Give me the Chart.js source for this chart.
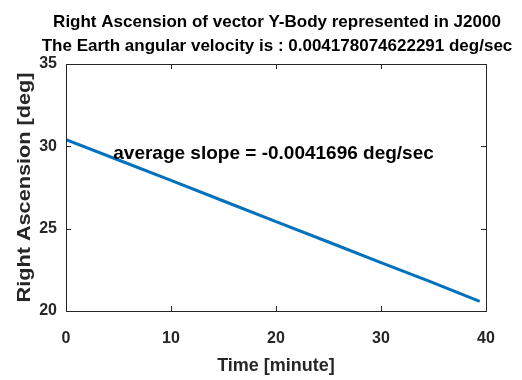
<!DOCTYPE html>
<html>
<head>
<meta charset="utf-8">
<script src="https://cdn.jsdelivr.net/npm/chart.js@4/dist/chart.umd.min.js"></script>
<style>
  html, body { margin: 0; padding: 0; background: #fff; }
  #wrap { width: 522px; height: 380px; }
</style>
</head>
<body>
<div id="wrap"><canvas id="myChart" width="522" height="380"></canvas></div>
<script>
// values
const timeMinutes = [0, 5, 10, 15, 20, 25, 30, 34.7, 39.4];
const rightAscension = [30.4, 29.17, 27.93, 26.68, 25.43, 24.19, 22.94, 21.78, 20.58];
const xTicks = [0, 10, 20, 30, 40];
const yTicks = [20, 25, 30, 35];
const titleLines = [
    "Right Ascension of vector Y-Body represented in J2000",
    "The Earth angular velocity is : 0.004178074622291 deg/sec"
];
const slopeText = "average slope = -0.0041696 deg/sec";
const yTitle = "Right Ascension [deg]";

const FONT = "'Liberation Sans', Arial, sans-serif";
const AXIS_COLOR = "#262626";

// box around plot, inward ticks, titles and the slope label
const boxPlugin = {
    id: "boxPlugin",
    afterDatasetsDraw(chart) {
        const { ctx, chartArea: a, scales } = chart;
        ctx.save();
        ctx.strokeStyle = AXIS_COLOR;
        ctx.lineWidth = 1;
        ctx.strokeRect(a.left + 0.5, a.top + 0.5, a.right - a.left, a.bottom - a.top);
        ctx.beginPath();
        xTicks.forEach(v => {
            const x = Math.round(scales.x.getPixelForValue(v)) + 0.5;
            ctx.moveTo(x, a.bottom); ctx.lineTo(x, a.bottom - 5);
            ctx.moveTo(x, a.top); ctx.lineTo(x, a.top + 5);
        });
        yTicks.forEach(v => {
            const y = Math.round(scales.y.getPixelForValue(v)) + 0.5;
            ctx.moveTo(a.left, y); ctx.lineTo(a.left + 5, y);
            ctx.moveTo(a.right, y); ctx.lineTo(a.right - 5, y);
        });
        ctx.stroke();

        // two-line title centred over the plot box
        ctx.fillStyle = "#000";
        ctx.font = "bold 17px " + FONT;
        ctx.textAlign = "center";
        ctx.textBaseline = "alphabetic";
        const cx = (a.left + a.right) / 2 + 1;
        ctx.fillText(titleLines[0], cx, 27);
        ctx.fillText(titleLines[1], cx, 51);

        ctx.font = "bold 19px " + FONT;
        ctx.textAlign = "left";
        ctx.textBaseline = "middle";
        ctx.fillText(slopeText, scales.x.getPixelForValue(4.5), scales.y.getPixelForValue(29.56));

        // y axis title, stretched a little along its length like the reference
        ctx.fillStyle = AXIS_COLOR;
        ctx.font = "bold 19px " + FONT;
        ctx.textAlign = "center";
        ctx.textBaseline = "alphabetic";
        ctx.translate(30, (a.top + a.bottom) / 2);
        ctx.rotate(-Math.PI / 2);
        ctx.scale(1.14, 1);
        ctx.fillText(yTitle, 0, 0);
        ctx.restore();
    }
};

const ctx = document.getElementById("myChart").getContext("2d");
new Chart(ctx, {
    type: "line",
    data: {
        datasets: [{
            data: timeMinutes.map((t, i) => ({ x: t, y: rightAscension[i] })),
            borderColor: "#0072BD",
            borderWidth: 3,
            pointRadius: 0,
            tension: 0,
            fill: false
        }]
    },
    options: {
        responsive: false,
        animation: false,
        layout: { padding: { left: 0, right: 36, top: 64, bottom: 0 } },
        plugins: {
            legend: { display: false },
            tooltip: { enabled: false },
            title: { display: false }
        },
        scales: {
            x: {
                type: "linear",
                min: 0, max: 40,
                afterBuildTicks: s => { s.ticks = xTicks.map(v => ({ value: v })); },
                afterFit: s => { s.height = 69; },
                grid: { display: false, drawTicks: false },
                border: { display: false },
                ticks: { color: AXIS_COLOR, font: { family: FONT, size: 16, weight: "bold" }, padding: 18, maxRotation: 0 },
                title: { display: true, text: "Time [minute]", color: AXIS_COLOR, font: { family: FONT, size: 18, weight: "bold" }, padding: { top: 0, bottom: 3 } }
            },
            y: {
                min: 20, max: 35,
                afterBuildTicks: s => { s.ticks = yTicks.map(v => ({ value: v })); },
                afterFit: s => { s.width = 66; },
                grid: { display: false, drawTicks: false },
                border: { display: false },
                ticks: { color: AXIS_COLOR, font: { family: FONT, size: 16, weight: "bold" }, padding: 9 }
            }
        }
    },
    plugins: [boxPlugin]
});
</script>
</body>
</html>
